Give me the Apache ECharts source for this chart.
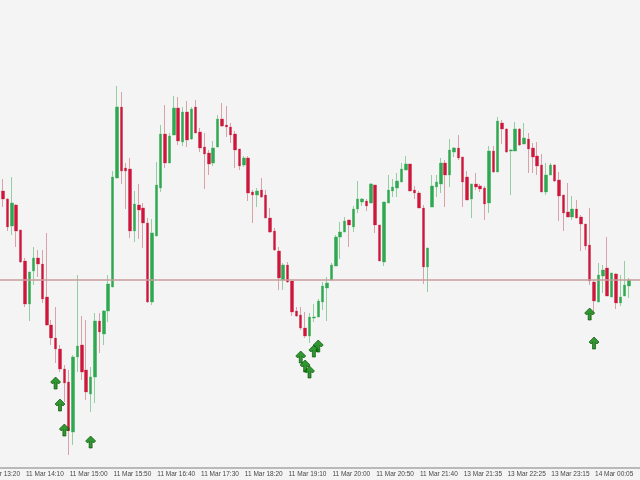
<!DOCTYPE html>
<html>
<head>
<meta charset="utf-8">
<title>5 min candles</title>
<script src="https://cdn.jsdelivr.net/npm/echarts@6/dist/echarts.min.js"></script>
<style>
  html, body { margin: 0; padding: 0; background: #f4f4f4; }
  #chart { width: 640px; height: 480px; }
</style>
</head>
<body>
<div id="chart"></div>
<script>
// trading sessions, 5 minute bars
const sessions = [
  { date: '11 Mar', start: '13:20', bars: 101 },
  { date: '13 Mar', start: '20:50', bars: 50 },
];
const nextDay = { '11 Mar': '12 Mar', '13 Mar': '14 Mar' };

// prices in chart points, one entry per bar (null = no bar drawn)
const open = [null, null, null, null,
  243, 277, 269, 242, 263, 238, 207, 164, 197, 210,
  204, 171, 143, 130, 119, 99, 86, 36, 111, 123,
  98, 74, 91, 147, 134, 157, 181, 290, 361, 300,
  299, 237, 263, 260, 245, 166, 232, 280, 334, 305,
  333, 360, 326, 356, 329, 361, 336, 321, 315, 305,
  321, 349, 343, 341, 334, 319, 303, 310, 276, 273,
  278, 273, 250, 237, 217, 188, 203, 187, 157, 153,
  140, 132, 150, 151, 166, 180, 188, 202, 231, 236,
  248, 241, 259, 266, 267, 265, 283, 243, 206, 265,
  277, 280, 286, 298, 304, 278, 275, 260, 201, 261,
  281, 284, 305, 293, 316, 320, 311, 291, 269, 284,
  282, 280, 265, 317, 296, 345, 339, 317, 317, 339,
  324, 329, 320, 312, 303, 276, 293, 303, 288, 273,
  256, 251, 259, 251, 244, 223, 186, 166, 192, 200,
  171, 194, 165, 172, 182, null, null];
const close = [null, null, null, null,
  276, 269, 241, 265, 237, 206, 164, 196, 210, 204,
  169, 143, 130, 119, 99, 85, 37, 111, 122, 96,
  76, 91, 147, 136, 157, 184, 291, 361, 297, 297,
  237, 264, 258, 245, 166, 235, 283, 334, 305, 332,
  360, 327, 356, 328, 359, 335, 320, 314, 304, 320,
  349, 342, 341, 333, 318, 302, 310, 275, 273, 277,
  271, 250, 236, 218, 190, 203, 186, 156, 152, 140,
  132, 151, 151, 167, 182, 185, 203, 231, 236, 247,
  243, 259, 269, 269, 262, 284, 243, 207, 266, 278,
  281, 287, 299, 304, 277, 275, 260, 201, 220, 282,
  286, 305, 293, 318, 320, 310, 286, 268, 284, 281,
  279, 264, 317, 296, 347, 339, 316, 318, 339, 323,
  330, 319, 311, 302, 276, 293, 303, 287, 272, 255,
  251, 259, 250, 244, 222, 187, 167, 193, 198, 172,
  195, 165, 171, 183, 188, null, null];
const low = [null, null, null, null,
  242, 261, 237, 233, 221, 205, 161, 147, 183, 191,
  165, 142, 123, 105, 96, 66, 13, 23, 96, 88,
  68, 56, 65, 115, 123, 146, 181, 290, 284, 259,
  230, 226, 229, 220, 165, 163, 232, 276, 300, 305,
  333, 323, 322, 321, 328, 335, 316, 279, 293, 302,
  321, 341, 331, 325, 300, 298, 301, 267, 245, 261,
  270, 250, 235, 217, 178, 178, 185, 152, 151, 138,
  130, 125, 146, 151, 158, 147, 188, 202, 209, 236,
  221, 236, 255, 262, 257, 265, 235, 207, 202, 265,
  271, 271, 286, 298, 277, 269, 260, 184, 176, 261,
  271, 275, 261, 281, 311, 308, 261, 268, 250, 278,
  276, 248, 255, 295, 296, 324, 315, 273, 317, 322,
  324, 295, 295, 293, 276, 273, 293, 286, 247, 237,
  251, 248, 250, 217, 218, 183, 155, 166, 175, 172,
  171, 159, 162, 172, 170, null, null];
const high = [null, null, null, null,
  290, 289, 270, 291, 264, 238, 210, 196, 221, 218,
  218, 235, 148, 161, 123, 103, 98, 113, 193, 152,
  148, 101, 155, 155, 158, 193, 297, 382, 376, 305,
  310, 277, 284, 265, 250, 249, 306, 343, 363, 335,
  372, 371, 361, 367, 361, 368, 340, 335, 318, 327,
  353, 365, 362, 345, 337, 319, 312, 312, 278, 280,
  290, 278, 260, 240, 221, 205, 206, 187, 161, 161,
  156, 155, 164, 169, 186, 191, 205, 233, 246, 251,
  248, 262, 287, 270, 269, 285, 283, 243, 266, 293,
  289, 295, 305, 312, 304, 282, 277, 263, 220, 293,
  293, 310, 308, 329, 321, 333, 311, 297, 284, 295,
  284, 282, 322, 322, 351, 348, 340, 319, 346, 340,
  345, 335, 325, 326, 314, 305, 305, 304, 296, 273,
  285, 272, 268, 253, 244, 260, 188, 205, 203, 231,
  195, 195, 193, 207, 190, null, null];

// buy arrows: bar index and level
const arrowBar = [17, 18, 19, 25, 73, 74, 75, 76, 77, 139, 140];
const arrowLevel = [85, 63, 38, 26, 111, 102, 96, 117, 122, 154, 125];

const levelLine = 188;
const labelEvery = 10;

const UP = '#2fa852';
const DOWN = '#d2143c';
const UP_WICK = '#93cfa0';
const DOWN_WICK = '#d8a2aa';

function pad(n) {
  return String(n).padStart(2, '0');
}

function buildCategories() {
  const out = [];
  sessions.forEach((s) => {
    let [h, m] = s.start.split(':').map(Number);
    let date = s.date;
    for (let n = 0; n < s.bars; n++) {
      out.push(`${date} ${pad(h)}:${pad(m)}`);
      m += 5;
      if (m >= 60) { m -= 60; h += 1; }
      if (h >= 24) { h -= 24; date = nextDay[date]; }
    }
  });
  return out;
}

const categories = buildCategories();
const lastLabel = categories.length - 1;
const showLabel = (i) => i % labelEvery === 0 && i < lastLabel;

const full = categories.map((_, i) =>
  open[i] == null ? '-' : [open[i], close[i], low[i], high[i]]);
const bodies = categories.map((_, i) =>
  open[i] == null
    ? '-'
    : [open[i], close[i], Math.min(open[i], close[i]), Math.max(open[i], close[i])]);
const arrows = arrowBar.map((b, n) => [b, arrowLevel[n]]);

const chart = echarts.init(document.getElementById('chart'));
chart.setOption({
  animation: false,
  backgroundColor: '#f4f4f4',
  grid: {
    left: -21,
    right: 0,
    top: 0,
    bottom: 12,
    outerBoundsMode: 'none', // let the first label run off the left edge
  },
  xAxis: {
    type: 'category',
    data: categories,
    boundaryGap: true,
    axisLine: { lineStyle: { color: '#b9b9b9', width: 2 } },
    axisTick: {
      alignWithLabel: true,
      interval: showLabel,
      length: 3,
      lineStyle: { color: '#9c9c9c' },
    },
    axisLabel: {
      interval: showLabel,
      align: 'left',
      margin: 3,
      color: '#474747',
      fontSize: 6.5,
      fontFamily: 'Liberation Sans',
      padding: [0, 0, 0, 1],
    },
    splitLine: { show: false },
  },
  yAxis: { type: 'value', min: 0, max: 468, show: false },
  series: [
    {
      name: 'wicks',
      type: 'candlestick',
      data: full,
      barWidth: 3,
      itemStyle: {
        color: UP_WICK,
        color0: DOWN_WICK,
        borderColor: UP_WICK,
        borderColor0: DOWN_WICK,
        borderWidth: 1,
      },
      markLine: {
        silent: true,
        symbol: 'none',
        label: { show: false },
        lineStyle: { color: '#c99d9d', width: 1.5, type: 'solid' },
        data: [{ yAxis: levelLine }],
      },
    },
    {
      name: 'bodies',
      type: 'candlestick',
      data: bodies,
      barWidth: 3,
      itemStyle: {
        color: UP,
        color0: DOWN,
        borderColor: UP,
        borderColor0: DOWN,
        borderWidth: 0,
      },
    },
    {
      name: 'buy',
      type: 'scatter',
      data: arrows,
      symbol: 'path://M5,0 L10,5 L8,7 L6.5,5.5 L6.5,12 L3.5,12 L3.5,5.5 L2,7 L0,5 Z',
      symbolSize: [10, 12],
      itemStyle: { color: '#008000', borderColor: '#004d00', borderWidth: 0.8 },
      z: 5,
    },
  ],
});
</script>
</body>
</html>
